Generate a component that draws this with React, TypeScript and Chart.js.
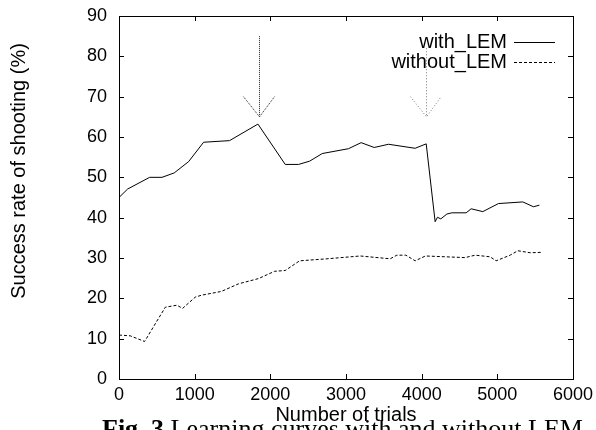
import React, { useEffect, useRef } from "react";
import { Chart, registerables } from "chart.js";

Chart.register(...registerables);

const withX = [0, 114, 405, 568, 730, 920, 1118, 1461, 1836, 2197, 2373, 2518, 2686, 3033, 3200, 3373, 3562, 3914, 4060, 4178, 4209, 4253, 4333, 4399, 4588, 4654, 4808, 5015, 5337, 5477, 5556];
const withY = [45, 47.1, 50, 50, 51.1, 53.9, 58.7, 59.1, 63.2, 53.2, 53.2, 54, 55.9, 57.1, 58.6, 57.4, 58.2, 57.2, 58.3, 39, 40.1, 39.7, 40.9, 41.2, 41.2, 42.2, 41.5, 43.5, 43.9, 42.7, 43.1];
const withoutX = [0, 149, 338, 612, 766, 840, 1008, 1096, 1351, 1580, 1844, 2056, 2197, 2386, 2748, 3188, 3584, 3672, 3791, 3914, 4050, 4575, 4707, 4905, 4984, 5169, 5271, 5433, 5588];
const withoutY = [10.9, 10.7, 9.3, 17.8, 18.3, 17.5, 20.3, 20.8, 21.7, 23.6, 24.9, 26.7, 26.9, 29.3, 29.8, 30.5, 29.8, 30.7, 30.7, 29.3, 30.5, 30.1, 30.7, 30.3, 29.3, 30.7, 31.8, 31.3, 31.4];
const seriesNames = ["with_LEM", "without_LEM"];
const arrowX = [1850, 4055];
const arrowTop = [85, 82];
const arrowTip = [65, 65];
const arrowHeadY = [70, 70];
const arrowHeadHalf = [205, 203];
const xTitle = "Number of trials";
const yTitle = "Success rate of shooting (%)";
const captionBold = "Fig. 3";
const captionText = "Learning curves with and without LEM";

const FONT = "'Liberation Sans', Arial, sans-serif";

const framePlugin = {
  id: "frame",
  afterDatasetsDraw(chart: any) {
    const { ctx, chartArea: a, scales } = chart;
    const xs = scales.x;
    const ys = scales.y;
    ctx.save();
    ctx.strokeStyle = "#000";
    ctx.lineWidth = 1;
    ctx.setLineDash([]);
    ctx.strokeRect(Math.round(a.left) + 0.5, Math.round(a.top) + 0.5, Math.round(a.right - a.left), Math.round(a.bottom - a.top));
    const tl = 5;
    ctx.beginPath();
    xs.ticks.forEach((t: any) => {
      const px = Math.round(xs.getPixelForValue(t.value)) + 0.5;
      ctx.moveTo(px, a.bottom);
      ctx.lineTo(px, a.bottom - tl);
      ctx.moveTo(px, a.top);
      ctx.lineTo(px, a.top + tl);
    });
    ys.ticks.forEach((t: any) => {
      const py = Math.round(ys.getPixelForValue(t.value)) + 0.5;
      ctx.moveTo(a.left, py);
      ctx.lineTo(a.left + tl, py);
      ctx.moveTo(a.right, py);
      ctx.lineTo(a.right - tl, py);
    });
    ctx.stroke();

    // arrows
    arrowX.forEach((ax, i) => {
      const px = Math.round(xs.getPixelForValue(ax)) + 0.5;
      ctx.strokeStyle = i === 0 ? "#222" : "#777";
      ctx.setLineDash(i === 0 ? [1, 1] : [1, 2]);
      ctx.beginPath();
      ctx.moveTo(px, ys.getPixelForValue(arrowTop[i]));
      ctx.lineTo(px, ys.getPixelForValue(arrowTip[i]));
      ctx.moveTo(xs.getPixelForValue(ax - arrowHeadHalf[i]), ys.getPixelForValue(arrowHeadY[i]));
      ctx.lineTo(px, ys.getPixelForValue(arrowTip[i]));
      ctx.lineTo(xs.getPixelForValue(ax + arrowHeadHalf[i]), ys.getPixelForValue(arrowHeadY[i]));
      ctx.stroke();
    });

    // legend
    ctx.setLineDash([]);
    ctx.fillStyle = "#000";
    ctx.font = `20px ${FONT}`;
    ctx.textAlign = "right";
    ctx.textBaseline = "alphabetic";
    const lx = a.right - 66;
    const baselines = [a.top + 32, a.top + 52];
    const sampleY = [a.top + 26, a.top + 46];
    seriesNames.forEach((n, i) => {
      ctx.fillText(n, lx, baselines[i]);
      ctx.strokeStyle = "#000";
      ctx.setLineDash(i === 0 ? [] : [3, 2]);
      ctx.beginPath();
      ctx.moveTo(lx + 7, Math.round(sampleY[i]) + 0.5);
      ctx.lineTo(lx + 48, Math.round(sampleY[i]) + 0.5);
      ctx.stroke();
    });

    // y-axis title
    ctx.setLineDash([]);
    ctx.save();
    ctx.translate(19, 171);
    ctx.rotate(-Math.PI / 2);
    ctx.textAlign = "center";
    ctx.textBaseline = "middle";
    ctx.font = `20px ${FONT}`;
    ctx.fillText(yTitle, 0, 0);
    ctx.restore();

    // caption
    ctx.textAlign = "left";
    ctx.textBaseline = "alphabetic";
    ctx.font = `bold 26px 'Liberation Serif', serif`;
    const cx = 102;
    const cy = 437;
    ctx.fillText(captionBold, cx, cy);
    const w = ctx.measureText(captionBold + " ").width;
    ctx.font = `26px 'Liberation Serif', serif`;
    ctx.fillText(captionText, cx + w, cy);
    ctx.restore();
  },
};

export default function App() {
  const ref = useRef<HTMLCanvasElement>(null);
  useEffect(() => {
    const chart = new Chart(ref.current!, {
      type: "line",
      data: {
        datasets: [
          {
            label: seriesNames[0],
            data: withX.map((x, i) => ({ x, y: withY[i] })),
            borderColor: "#000",
            borderWidth: 1,
            pointRadius: 0,
            tension: 0,
            fill: false,
          },
          {
            label: seriesNames[1],
            data: withoutX.map((x, i) => ({ x, y: withoutY[i] })),
            borderColor: "#000",
            borderWidth: 1,
            borderDash: [3, 2],
            pointRadius: 0,
            tension: 0,
            fill: false,
          },
        ],
      },
      options: {
        animation: false,
        responsive: false,
        maintainAspectRatio: false,
        layout: { padding: { top: 16, right: 23, left: 0, bottom: 0 } },
        plugins: { legend: { display: false }, tooltip: { enabled: false } },
        scales: {
          x: {
            type: "linear",
            min: 0,
            max: 6000,
            ticks: { stepSize: 1000, color: "#000", font: { family: FONT, size: 18 }, padding: -3, maxRotation: 0, callback: (v: any) => String(v) },
            grid: { display: false },
            border: { display: false },
            title: { display: true, text: xTitle, color: "#000", font: { family: FONT, size: 20 }, padding: { top: 0, bottom: 3 } },
            afterFit: (s: any) => { s.height = 51; },
          },
          y: {
            min: 0,
            max: 90,
            ticks: { stepSize: 10, color: "#000", font: { family: FONT, size: 18 }, padding: 4 },
            grid: { display: false },
            border: { display: false },
            title: { display: false },
            afterFit: (s: any) => { s.width = 119; },
          },
        },
      },
      plugins: [framePlugin],
    });
    return () => chart.destroy();
  }, []);
  return (
    <div style={{ position: "fixed", left: 0, top: 0, width: 596, height: 430, background: "#fff" }}>
      <canvas ref={ref} width={596} height={430} style={{ width: 596, height: 430 }} />
    </div>
  );
}
